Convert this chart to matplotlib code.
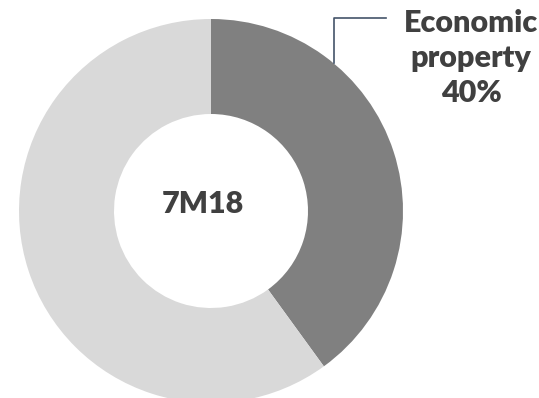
import matplotlib
matplotlib.use('Agg')
import matplotlib.pyplot as plt

# data
labels = ['Economic property', 'Other']
shares = [40, 60]
colors = ['#808080', '#d9d9d9']
center_label = '7M18'

W, H = 539, 398
fig = plt.figure(figsize=(W / 100, H / 100), dpi=100)
ax = fig.add_axes([0, 0, 1, 1])

ax.pie(shares, colors=colors, startangle=90, counterclock=False,
       center=(211, H - 211), radius=192, frame=True,
       wedgeprops=dict(width=95, linewidth=0))
ax.set_xlim(0, W)
ax.set_ylim(0, H)
ax.set_aspect('equal')
ax.axis('off')

font = dict(fontsize=22, fontweight='heavy', color='#404040', family='Lato')
ax.text(203, H - 204, center_label, ha='center', va='center', **font)

# leader line + label
ax.plot([334, 334, 386], [H - 63, H - 18, H - 18], color='#44546a', lw=1.2)
ax.text(471, H - 58, '%s\nproperty\n%d%%' % ('Economic', shares[0]),
        ha='center', va='center', linespacing=1.32, **font)

plt.savefig('out.png', dpi=100)
